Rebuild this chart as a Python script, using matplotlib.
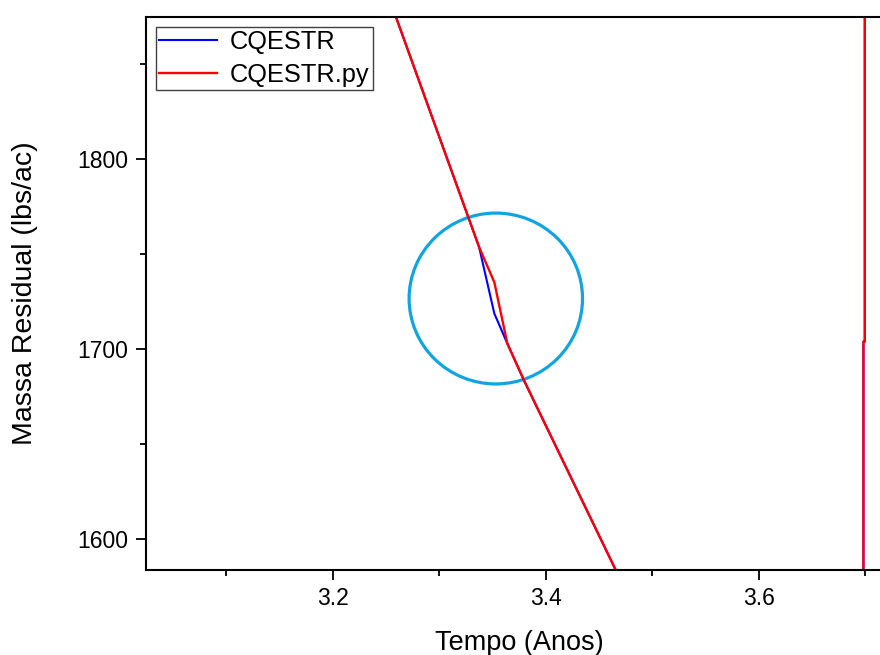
import matplotlib
matplotlib.use('Agg')
import matplotlib.pyplot as plt
from matplotlib.patches import Ellipse
from matplotlib.ticker import MultipleLocator

plt.rcParams['font.family'] = ['Liberation Sans', 'DejaVu Sans']

# time (years) and residual mass (lbs/ac)
tempo = [3.00, 3.2594, 3.3374, 3.3517, 3.3639, 3.3796, 3.4660, 3.6982, 3.6982, 3.6995, 3.6995, 3.75]
massa_cqestr = [2277.8, 1874.9, 1753.8, 1718.8, 1703.0, 1683.5, 1583.3, 1314.0, 1704.0, 1704.0, 2100.0, 2040.0]
massa_py = [2277.8, 1874.9, 1753.8, 1735.3, 1703.0, 1683.5, 1583.3, 1314.0, 1704.0, 1704.0, 2100.0, 2040.0]

# highlighted region
circ_centro = (3.3531, 1726.7)
circ_largura = 0.1628
circ_altura = 90.0

fig = plt.figure(figsize=(8.8, 6.55), dpi=100)
ax = fig.add_axes([0.1659, 0.1298, 0.8477, 0.8443])

ax.plot(tempo, massa_cqestr, color='blue', lw=1.5, label='CQESTR')
ax.plot(tempo, massa_py, color='red', lw=1.7, label='CQESTR.py')

ax.add_patch(Ellipse(circ_centro, circ_largura, circ_altura, fill=False,
                     edgecolor='#12A4E0', lw=2.3))

ax.set_xlim(3.0247, 3.725)
ax.set_ylim(1583.7, 1875.0)

ax.xaxis.set_major_locator(MultipleLocator(0.2))
ax.xaxis.set_minor_locator(MultipleLocator(0.1))
ax.yaxis.set_major_locator(MultipleLocator(100))
ax.yaxis.set_minor_locator(MultipleLocator(50))

ax.tick_params(which='major', direction='out', length=7, width=1.3, labelsize=16.5)
ax.tick_params(axis='x', which='major', pad=5)
ax.tick_params(axis='y', which='major', pad=6)
ax.tick_params(which='minor', direction='out', length=4, width=1.3)

for s in ax.spines.values():
    s.set_linewidth(1.5)

ax.set_xlabel('Tempo (Anos)', fontsize=19.5, labelpad=15)
ax.set_ylabel('Massa Residual (lbs/ac)', fontsize=20.5, labelpad=28)

leg = ax.legend(loc='upper left', bbox_to_anchor=(0.0134, 0.9813), borderaxespad=0,
                fontsize=18.3, fancybox=False, edgecolor='#404040', framealpha=1,
                handlelength=2.3, handletextpad=0.5, labelspacing=0.33, borderpad=0.12)
leg.get_frame().set_linewidth(1.0)

fig.savefig('out.png', dpi=100)
